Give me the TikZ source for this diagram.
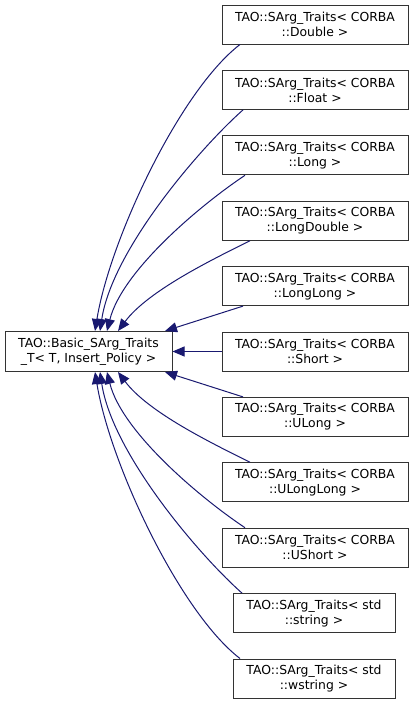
\documentclass[tikz,border=0pt]{standalone}
\usepackage{fontspec}
\setmainfont{DejaVu Sans}
\usetikzlibrary{arrows.meta}
\definecolor{edgeblue}{RGB}{25,25,112}

\begin{document}
\begin{tikzpicture}[x=1pt, y=-1pt,
    classbox/.style={draw=black!80, line width=1pt, fill=white, minimum height=39pt,
        inner sep=0pt, align=center, font=\fontsize{12.4}{15}\selectfont},
    inherit/.style={draw=edgeblue, line width=1pt, -{Triangle[length=12pt,width=10pt]}}]
    \useasboundingbox (0,0) rectangle (413,704);

    % Base class
    \node[classbox, minimum width=167pt, minimum height=40pt] (basetraits) at (88.5, 351.5)
        {TAO::Basic\_SArg\_Traits\\\_T< T, Insert\_Policy >};

    % Derived classes
    \node[classbox, minimum width=186pt] (sdouble) at (315, 24.5) {TAO::SArg\_Traits< CORBA\\::Double >};
    \node[classbox, minimum width=186pt] (sfloat) at (315, 89.9) {TAO::SArg\_Traits< CORBA\\::Float >};
    \node[classbox, minimum width=186pt] (slong) at (315, 155.3) {TAO::SArg\_Traits< CORBA\\::Long >};
    \node[classbox, minimum width=186pt] (slongdouble) at (315, 220.7) {TAO::SArg\_Traits< CORBA\\::LongDouble >};
    \node[classbox, minimum width=186pt] (slonglong) at (315, 286.1) {TAO::SArg\_Traits< CORBA\\::LongLong >};
    \node[classbox, minimum width=186pt] (sshort) at (315, 351.5) {TAO::SArg\_Traits< CORBA\\::Short >};
    \node[classbox, minimum width=186pt] (sulong) at (315, 416.9) {TAO::SArg\_Traits< CORBA\\::ULong >};
    \node[classbox, minimum width=186pt] (sulonglong) at (315, 482.3) {TAO::SArg\_Traits< CORBA\\::ULongLong >};
    \node[classbox, minimum width=186pt] (sushort) at (315, 547.7) {TAO::SArg\_Traits< CORBA\\::UShort >};
    \node[classbox, minimum width=162pt] (sstring) at (314, 613.1) {TAO::SArg\_Traits< std\\::string >};
    \node[classbox, minimum width=162pt] (swstring) at (314, 678.5) {TAO::SArg\_Traits< std\\::wstring >};

    % Inheritance edges, upper half
    \draw[inherit] ([xshift=-75pt]sdouble.south) .. controls +(-60,46) and +(15,-92) .. ([xshift=6.5pt]basetraits.north);
    \draw[inherit] ([xshift=-72pt]sfloat.south) .. controls +(-45,40) and +(12,-80) .. ([xshift=11.5pt]basetraits.north);
    \draw[inherit] ([xshift=-70pt]slong.south) .. controls +(-45,30) and +(15,-60) .. ([xshift=18.5pt]basetraits.north);
    \draw[inherit] ([xshift=-65pt]slongdouble.south) .. controls +(-40,20) and +(30,-40) .. ([xshift=29.5pt]basetraits.north);
    \draw[inherit] ([xshift=-72pt]slonglong.south) -- ([xshift=76.5pt]basetraits.north);

    % Straight edge
    \draw[inherit] (sshort.west) -- (basetraits.east);

    % Inheritance edges, lower half
    \draw[inherit] ([xshift=-72pt]sulong.north) -- ([xshift=76.5pt]basetraits.south);
    \draw[inherit] ([xshift=-65pt]sulonglong.north) .. controls +(-40,-20) and +(30,40) .. ([xshift=29.5pt]basetraits.south);
    \draw[inherit] ([xshift=-70pt]sushort.north) .. controls +(-45,-30) and +(15,60) .. ([xshift=18.5pt]basetraits.south);
    \draw[inherit] ([xshift=-72pt]sstring.north) .. controls +(-45,-40) and +(12,80) .. ([xshift=11.5pt]basetraits.south);
    \draw[inherit] ([xshift=-74pt]swstring.north) .. controls +(-60,-46) and +(15,92) .. ([xshift=6.5pt]basetraits.south);
\end{tikzpicture}
\end{document}
